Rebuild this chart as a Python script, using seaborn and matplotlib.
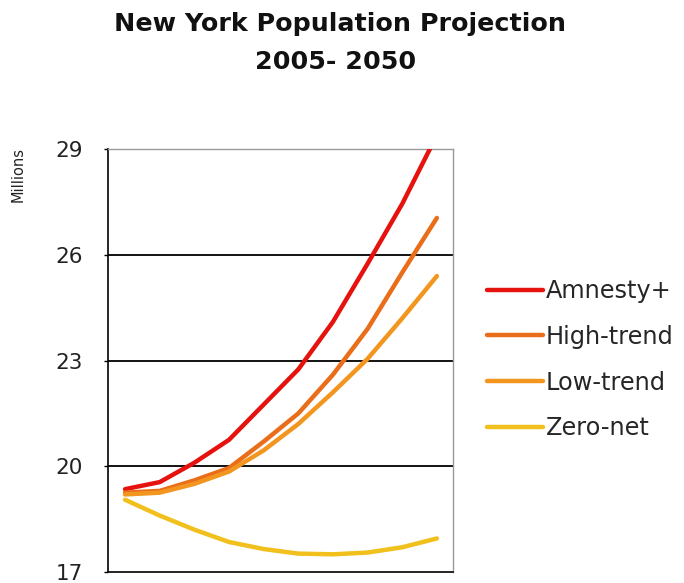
import matplotlib
matplotlib.use("Agg")
import matplotlib.pyplot as plt
import seaborn as sns
import pandas as pd

years = [2005, 2010, 2015, 2020, 2025, 2030, 2035, 2040, 2045, 2050]
amnesty = [19.35, 19.55, 20.1, 20.75, 21.75, 22.75, 24.1, 25.75, 27.45, 29.4]
high_trend = [19.25, 19.3, 19.6, 19.95, 20.7, 21.5, 22.6, 23.9, 25.5, 27.05]
low_trend = [19.2, 19.25, 19.5, 19.85, 20.45, 21.2, 22.1, 23.05, 24.2, 25.4]
zero_net = [19.05, 18.6, 18.2, 17.85, 17.65, 17.52, 17.5, 17.55, 17.7, 17.95]
series_names = ["Amnesty+", "High-trend", "Low-trend", "Zero-net"]
colors = ["#E5120E", "#EA6E1A", "#F29620", "#F2C01C"]
yticks = [17, 20, 23, 26, 29]

rows = []
for name, vals in zip(series_names, [amnesty, high_trend, low_trend, zero_net]):
    for y, v in zip(years, vals):
        rows.append({"Year": y, "Millions": v, "Series": name})
df = pd.DataFrame(rows)

sns.set_theme(style="white")
plt.rcParams["font.family"] = ["DejaVu Sans"]

fig = plt.figure(figsize=(6.84, 5.83), dpi=100)
ax = fig.add_axes([0.158, 0.019, 0.504, 0.725])

for yv in yticks[1:-1]:
    ax.axhline(yv, color="black", lw=1.3, zorder=1)

sns.lineplot(data=df, x="Year", y="Millions", hue="Series", palette=colors,
             hue_order=series_names, linewidth=3.2, ax=ax, legend=True, zorder=3)

ax.set_xlim(2002.55, 2052.3)
ax.set_ylim(17, 29)
ax.set_yticks(yticks)
ax.set_yticklabels([str(t) for t in yticks], fontsize=15.5, color="#222222")
ax.set_xticks([])
ax.set_xlabel("")
ax.set_ylabel("")
ax.tick_params(axis="y", length=3, width=1, color="black", pad=15, left=True)
for s in ["left", "bottom"]:
    ax.spines[s].set_color("black")
    ax.spines[s].set_linewidth(1.2)
for s in ["top", "right"]:
    ax.spines[s].set_color("#999999")
    ax.spines[s].set_linewidth(1.0)

handles, labels = ax.get_legend_handles_labels()
ax.legend_.remove()
fig.legend(handles, labels, loc="center left", bbox_to_anchor=(0.712, 0.383),
           frameon=False, handlelength=2.35, handletextpad=0.1,
           labelspacing=0.9, borderpad=0, borderaxespad=0,
           prop={"size": 17.3})

fig.text(0.497, 0.959, "New York Population Projection", ha="center", va="center",
         fontsize=18.3, fontweight="bold", color="#111111")
fig.text(0.49, 0.894, "2005- 2050", ha="center", va="center",
         fontsize=18.3, fontweight="bold", color="#111111")
fig.text(0.027, 0.70, "Millions", rotation=90, ha="center", va="center",
         fontsize=10.5, color="#222222")

fig.savefig("out.png", dpi=100)
